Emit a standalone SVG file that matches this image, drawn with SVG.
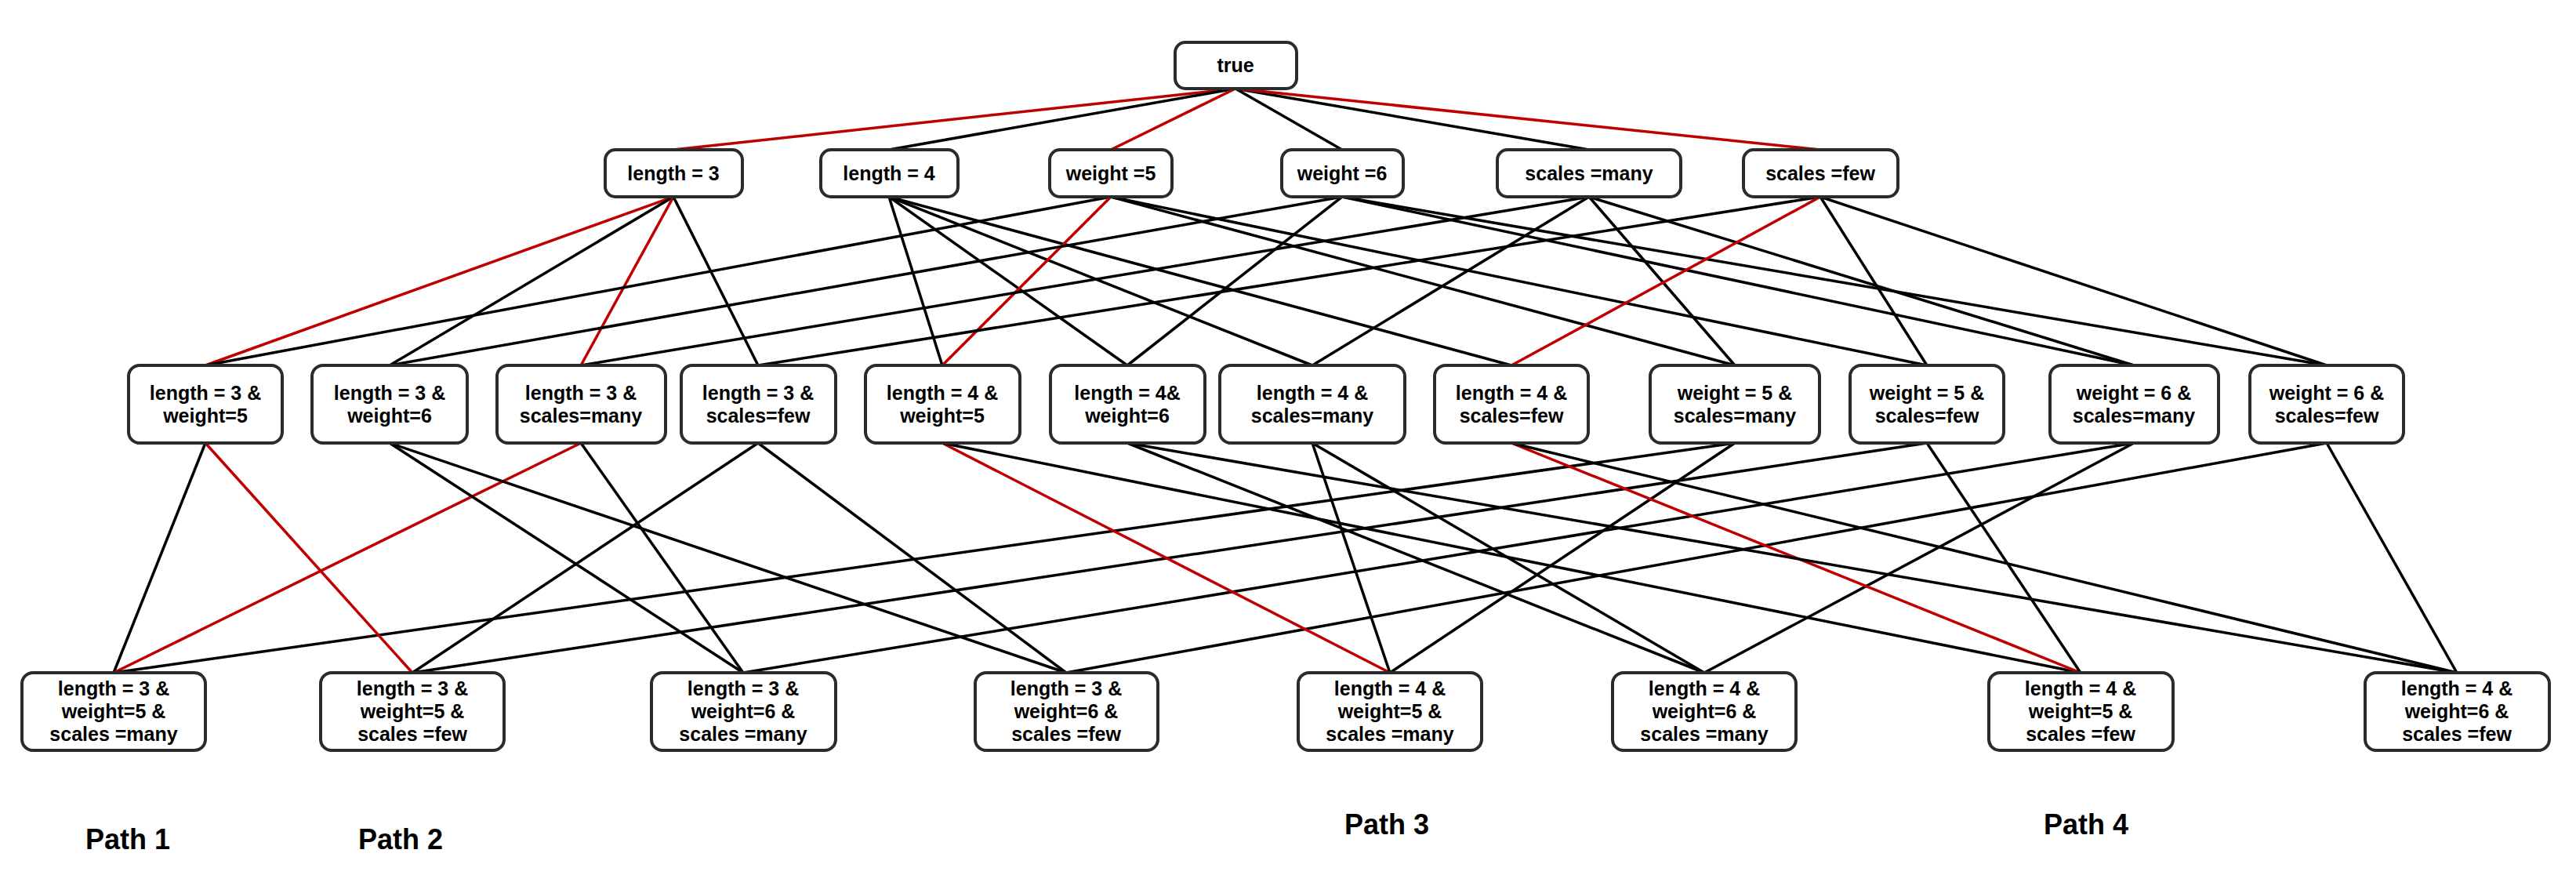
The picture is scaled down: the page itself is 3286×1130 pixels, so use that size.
<svg xmlns="http://www.w3.org/2000/svg" width="3286" height="1130" viewBox="0 0 3286 1130">
<style>
.n rect{fill:#fff;stroke:#2b2b2b;stroke-width:4}
.n text,.lbl{font-family:"Liberation Sans",Arial,sans-serif;font-weight:bold;fill:#000;text-anchor:middle}
.n text{font-size:25px}
.lbl{font-size:36px}
.e line{stroke:#000;stroke-width:3.5}
.e line.r{stroke:#c00000}
</style>
<rect width="3286" height="1130" fill="#fff"/>
<g id="edges" class="e">
<!-- level 0 to 1 -->
<line class="r" x1="1576" y1="113" x2="859" y2="191"/>
<line x1="1576" y1="113" x2="1134" y2="191"/>
<line class="r" x1="1576" y1="113" x2="1417" y2="191"/>
<line x1="1576" y1="113" x2="1712" y2="191"/>
<line x1="1576" y1="113" x2="2027" y2="191"/>
<line class="r" x1="1576" y1="113" x2="2322" y2="191"/>
<!-- level 1 to 2 -->
<line class="r" x1="859" y1="251" x2="262" y2="466"/>
<line x1="859" y1="251" x2="497" y2="466"/>
<line class="r" x1="859" y1="251" x2="741" y2="466"/>
<line x1="859" y1="251" x2="967" y2="466"/>
<line x1="1134" y1="251" x2="1202" y2="466"/>
<line x1="1134" y1="251" x2="1438" y2="466"/>
<line x1="1134" y1="251" x2="1674" y2="466"/>
<line x1="1134" y1="251" x2="1928" y2="466"/>
<line x1="1417" y1="251" x2="262" y2="466"/>
<line class="r" x1="1417" y1="251" x2="1202" y2="466"/>
<line x1="1417" y1="251" x2="2213" y2="466"/>
<line x1="1417" y1="251" x2="2458" y2="466"/>
<line x1="1712" y1="251" x2="497" y2="466"/>
<line x1="1712" y1="251" x2="1438" y2="466"/>
<line x1="1712" y1="251" x2="2722" y2="466"/>
<line x1="1712" y1="251" x2="2968" y2="466"/>
<line x1="2027" y1="251" x2="741" y2="466"/>
<line x1="2027" y1="251" x2="1674" y2="466"/>
<line x1="2027" y1="251" x2="2213" y2="466"/>
<line x1="2027" y1="251" x2="2722" y2="466"/>
<line x1="2322" y1="251" x2="967" y2="466"/>
<line class="r" x1="2322" y1="251" x2="1928" y2="466"/>
<line x1="2322" y1="251" x2="2458" y2="466"/>
<line x1="2322" y1="251" x2="2968" y2="466"/>
<!-- level 2 to 3 -->
<line x1="262" y1="565" x2="145" y2="858"/>
<line class="r" x1="741" y1="565" x2="145" y2="858"/>
<line x1="2213" y1="565" x2="145" y2="858"/>
<line class="r" x1="262" y1="565" x2="526" y2="858"/>
<line x1="967" y1="565" x2="526" y2="858"/>
<line x1="2458" y1="565" x2="526" y2="858"/>
<line x1="497" y1="565" x2="948" y2="858"/>
<line x1="741" y1="565" x2="948" y2="858"/>
<line x1="2722" y1="565" x2="948" y2="858"/>
<line x1="497" y1="565" x2="1360" y2="858"/>
<line x1="967" y1="565" x2="1360" y2="858"/>
<line x1="2968" y1="565" x2="1360" y2="858"/>
<line class="r" x1="1202" y1="565" x2="1773" y2="858"/>
<line x1="1674" y1="565" x2="1773" y2="858"/>
<line x1="2213" y1="565" x2="1773" y2="858"/>
<line x1="1438" y1="565" x2="2174" y2="858"/>
<line x1="1674" y1="565" x2="2174" y2="858"/>
<line x1="2722" y1="565" x2="2174" y2="858"/>
<line x1="1202" y1="565" x2="2654" y2="858"/>
<line class="r" x1="1928" y1="565" x2="2654" y2="858"/>
<line x1="2458" y1="565" x2="2654" y2="858"/>
<line x1="1438" y1="565" x2="3134" y2="858"/>
<line x1="1928" y1="565" x2="3134" y2="858"/>
<line x1="2968" y1="565" x2="3134" y2="858"/>
</g>
<!-- level 0 -->
<g id="n-true" class="n"><rect x="1499" y="54" width="155" height="59" rx="13"/><text x="1576" y="92">true</text></g>
<!-- level 1 -->
<g id="n-l3" class="n"><rect x="772" y="191" width="175" height="60" rx="13"/><text x="859" y="230">length = 3</text></g>
<g id="n-l4" class="n"><rect x="1047" y="191" width="175" height="60" rx="13"/><text x="1134" y="230">length = 4</text></g>
<g id="n-w5" class="n"><rect x="1339" y="191" width="156" height="60" rx="13"/><text x="1417" y="230">weight =5</text></g>
<g id="n-w6" class="n"><rect x="1635" y="191" width="155" height="60" rx="13"/><text x="1712" y="230">weight =6</text></g>
<g id="n-sm" class="n"><rect x="1910" y="191" width="234" height="60" rx="13"/><text x="2027" y="230">scales =many</text></g>
<g id="n-sf" class="n"><rect x="2224" y="191" width="197" height="60" rx="13"/><text x="2322" y="230">scales =few</text></g>
<!-- level 2 -->
<g id="n-l3w5" class="n"><rect x="164" y="466" width="196" height="99" rx="14"/><text x="262" y="510">length = 3 &amp;</text><text x="262" y="539">weight=5</text></g>
<g id="n-l3w6" class="n"><rect x="398" y="466" width="198" height="99" rx="14"/><text x="497" y="510">length = 3 &amp;</text><text x="497" y="539">weight=6</text></g>
<g id="n-l3sm" class="n"><rect x="634" y="466" width="215" height="99" rx="14"/><text x="741" y="510">length = 3 &amp;</text><text x="741" y="539">scales=many</text></g>
<g id="n-l3sf" class="n"><rect x="869" y="466" width="197" height="99" rx="14"/><text x="967" y="510">length = 3 &amp;</text><text x="967" y="539">scales=few</text></g>
<g id="n-l4w5" class="n"><rect x="1104" y="466" width="197" height="99" rx="14"/><text x="1202" y="510">length = 4 &amp;</text><text x="1202" y="539">weight=5</text></g>
<g id="n-l4w6" class="n"><rect x="1340" y="466" width="197" height="99" rx="14"/><text x="1438" y="510">length = 4&amp;</text><text x="1438" y="539">weight=6</text></g>
<g id="n-l4sm" class="n"><rect x="1556" y="466" width="236" height="99" rx="14"/><text x="1674" y="510">length = 4 &amp;</text><text x="1674" y="539">scales=many</text></g>
<g id="n-l4sf" class="n"><rect x="1830" y="466" width="196" height="99" rx="14"/><text x="1928" y="510">length = 4 &amp;</text><text x="1928" y="539">scales=few</text></g>
<g id="n-w5sm" class="n"><rect x="2105" y="466" width="216" height="99" rx="14"/><text x="2213" y="510">weight = 5 &amp;</text><text x="2213" y="539">scales=many</text></g>
<g id="n-w5sf" class="n"><rect x="2360" y="466" width="196" height="99" rx="14"/><text x="2458" y="510">weight = 5 &amp;</text><text x="2458" y="539">scales=few</text></g>
<g id="n-w6sm" class="n"><rect x="2615" y="466" width="215" height="99" rx="14"/><text x="2722" y="510">weight = 6 &amp;</text><text x="2722" y="539">scales=many</text></g>
<g id="n-w6sf" class="n"><rect x="2870" y="466" width="196" height="99" rx="14"/><text x="2968" y="510">weight = 6 &amp;</text><text x="2968" y="539">scales=few</text></g>
<!-- level 3 -->
<g id="n-l3w5sm" class="n"><rect x="28" y="858" width="234" height="99" rx="14"/><text x="145" y="887">length = 3 &amp;</text><text x="145" y="916">weight=5 &amp;</text><text x="145" y="945">scales =many</text></g>
<g id="n-l3w5sf" class="n"><rect x="409" y="858" width="234" height="99" rx="14"/><text x="526" y="887">length = 3 &amp;</text><text x="526" y="916">weight=5 &amp;</text><text x="526" y="945">scales =few</text></g>
<g id="n-l3w6sm" class="n"><rect x="831" y="858" width="235" height="99" rx="14"/><text x="948" y="887">length = 3 &amp;</text><text x="948" y="916">weight=6 &amp;</text><text x="948" y="945">scales =many</text></g>
<g id="n-l3w6sf" class="n"><rect x="1244" y="858" width="233" height="99" rx="14"/><text x="1360" y="887">length = 3 &amp;</text><text x="1360" y="916">weight=6 &amp;</text><text x="1360" y="945">scales =few</text></g>
<g id="n-l4w5sm" class="n"><rect x="1656" y="858" width="234" height="99" rx="14"/><text x="1773" y="887">length = 4 &amp;</text><text x="1773" y="916">weight=5 &amp;</text><text x="1773" y="945">scales =many</text></g>
<g id="n-l4w6sm" class="n"><rect x="2057" y="858" width="234" height="99" rx="14"/><text x="2174" y="887">length = 4 &amp;</text><text x="2174" y="916">weight=6 &amp;</text><text x="2174" y="945">scales =many</text></g>
<g id="n-l4w5sf" class="n"><rect x="2537" y="858" width="235" height="99" rx="14"/><text x="2654" y="887">length = 4 &amp;</text><text x="2654" y="916">weight=5 &amp;</text><text x="2654" y="945">scales =few</text></g>
<g id="n-l4w6sf" class="n"><rect x="3017" y="858" width="235" height="99" rx="14"/><text x="3134" y="887">length = 4 &amp;</text><text x="3134" y="916">weight=6 &amp;</text><text x="3134" y="945">scales =few</text></g>
<!-- path labels -->
<g id="labels">
<text class="lbl" x="163" y="1083">Path 1</text>
<text class="lbl" x="511" y="1083">Path 2</text>
<text class="lbl" x="1769" y="1064">Path 3</text>
<text class="lbl" x="2661" y="1064">Path 4</text>
</g>
</svg>
